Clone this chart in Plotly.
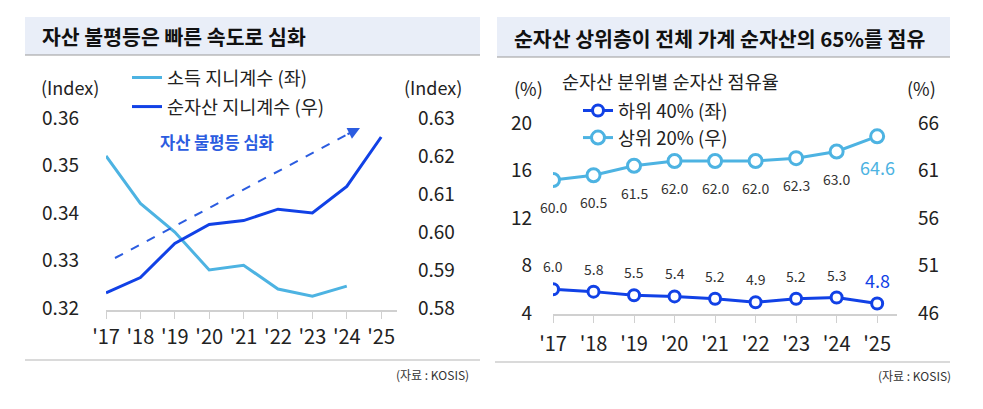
import plotly.graph_objects as go

# 데이터
years = ["'17", "'18", "'19", "'20", "'21", "'22", "'23", "'24", "'25"]
income_gini = [0.352, 0.342, 0.336, 0.328, 0.329, 0.324, 0.3225, 0.3246, None]
asset_gini = [0.584, 0.588, 0.597, 0.602, 0.603, 0.606, 0.605, 0.612, 0.625]

bottom40 = [6.0, 5.8, 5.5, 5.4, 5.2, 4.9, 5.2, 5.3, 4.8]
top20 = [60.0, 60.5, 61.5, 62.0, 62.0, 62.0, 62.3, 63.0, 64.6]

left_ticks_l = [0.32, 0.33, 0.34, 0.35, 0.36]
left_ticks_r = [0.58, 0.59, 0.60, 0.61, 0.62, 0.63]
right_ticks_l = [4, 8, 12, 16, 20]
right_ticks_r = [46, 51, 56, 61, 66]

LIGHT = "#4db3e2"
DARK = "#1141e6"
ARROW = "#2b5ce0"
FONT = "Noto Sans CJK KR"
W, H = 983, 409
OFF = 8  # 페이지 body 여백만큼 보정
FW, FH = W - OFF, H - OFF


def px(x):
    return (x - OFF) / FW


def py(y):
    return 1 - (y - OFF) / FH


def note(x, y, text, size, color="#222222", xanchor="center"):
    return dict(x=px(x), y=py(y), xref="paper", yref="paper", xanchor=xanchor, yanchor="middle",
                showarrow=False, text=text, font=dict(size=size, color=color, family=FONT))


fig = go.Figure()

# 왼쪽 차트
fig.add_trace(go.Scatter(x=years, y=income_gini, name="소득 지니계수 (좌)", mode="lines",
                         line=dict(color=LIGHT, width=3), xaxis="x", yaxis="y",
                         legend="legend", legendgroup="a"))
fig.add_trace(go.Scatter(x=years, y=asset_gini, name="순자산 지니계수 (우)", mode="lines",
                         line=dict(color=DARK, width=3), xaxis="x", yaxis="y2",
                         legend="legend", legendgroup="b"))

# 오른쪽 차트
fig.add_trace(go.Scatter(x=years, y=bottom40, name="하위 40% (좌)", mode="lines+markers",
                         line=dict(color=DARK, width=3),
                         marker=dict(size=11, color="white", line=dict(color=DARK, width=3)),
                         xaxis="x2", yaxis="y3", legend="legend2", legendgroup="c"))
fig.add_trace(go.Scatter(x=years, y=top20, name="상위 20% (우)", mode="lines+markers",
                         line=dict(color=LIGHT, width=3),
                         marker=dict(size=13, color="white", line=dict(color=LIGHT, width=3)),
                         xaxis="x2", yaxis="y4", legend="legend2", legendgroup="d"))

annotations = []
n = len(years)
for i, (yr, v) in enumerate(zip(years, bottom40)):
    last = i == n - 1
    annotations.append(dict(x=yr, y=v, xref="x2", yref="y3", text=f"{v:.1f}", showarrow=False,
                            yshift=24 if last else 23,
                            font=dict(size=18 if last else 14, color=DARK if last else "#333333", family=FONT)))
for i, (yr, v) in enumerate(zip(years, top20)):
    last = i == n - 1
    annotations.append(dict(x=yr, y=v, xref="x2", yref="y4", text=f"{v:.1f}", showarrow=False,
                            yshift=-31 if last else -27,
                            font=dict(size=18 if last else 14, color=LIGHT if last else "#333333", family=FONT)))

# 제목, 단위, 출처
annotations += [
    note(40, 36, "<b>자산 불평등은 빠른 속도로 심화</b>", 20.5, "#111111", "left"),
    note(512, 38, "<b>순자산 상위층이 전체 가계 순자산의 65%를 점유</b>", 20.5, "#111111", "left"),
    note(70, 87, "(Index)", 18),
    note(433, 87, "(Index)", 18),
    note(528, 88, "(%)", 18),
    note(921, 88, "(%)", 18),
    note(560, 81, "순자산 분위별 순자산 점유율", 18.5, xanchor="left"),
    note(471, 374, "(자료 : KOSIS)", 12, "#333333", "right"),
    note(953, 375, "(자료 : KOSIS)", 12, "#333333", "right"),
    note(217, 142, "<b>자산 불평등 심화</b>", 16.5, ARROW),
    # 화살표 머리
    dict(x=px(360), y=py(128), xref="paper", yref="paper", axref="pixel", ayref="pixel",
         ax=-14, ay=7, text="", showarrow=True, arrowhead=2, arrowsize=1.2, arrowwidth=2,
         arrowcolor=ARROW),
]

shapes = [
    dict(type="rect", xref="paper", yref="paper", x0=px(25), x1=px(480), y0=py(55), y1=py(17),
         fillcolor="#e9eef8", line=dict(width=0), layer="below"),
    dict(type="rect", xref="paper", yref="paper", x0=px(497), x1=px(950), y0=py(57), y1=py(17),
         fillcolor="#e9eef8", line=dict(width=0), layer="below"),
    dict(type="line", xref="paper", yref="paper", x0=px(25), x1=px(480), y0=py(55), y1=py(55),
         line=dict(color="#9a9a9a", width=1)),
    dict(type="line", xref="paper", yref="paper", x0=px(497), x1=px(950), y0=py(57), y1=py(57),
         line=dict(color="#9a9a9a", width=1)),
    dict(type="line", xref="paper", yref="paper", x0=px(25), x1=px(480), y0=py(360), y1=py(360),
         line=dict(color="#b5b5b5", width=1)),
    dict(type="line", xref="paper", yref="paper", x0=px(495), x1=px(950), y0=py(362), y1=py(362),
         line=dict(color="#b5b5b5", width=1)),
    # 점선 화살표
    dict(type="line", xref="paper", yref="paper", x0=px(115), y0=py(258), x1=px(352), y1=py(132),
         line=dict(color=ARROW, width=2, dash="dash")),
]

xcommon = dict(type="category", showline=True, linecolor="#d0d0d0", linewidth=1.5,
               ticks="outside", ticklen=7, tickcolor="#d0d0d0", showgrid=False,
               tickfont=dict(size=20, color="#222222", family=FONT))
ycommon = dict(showgrid=False, zeroline=False, showline=False, ticks="",
               tickfont=dict(size=19, color="#222222", family=FONT))

fig.update_layout(
    width=FW, height=FH,
    margin=dict(l=0, r=0, t=0, b=0, autoexpand=False),
    paper_bgcolor="white", plot_bgcolor="white",
    font=dict(family=FONT),
    xaxis=dict(xcommon, domain=[px(106), px(397)], range=[0, 8.46], anchor="y", ticklabelstandoff=1),
    yaxis=dict(ycommon, domain=[py(310), py(118)], range=[0.31958, 0.36],
               tickvals=left_ticks_l, tickformat=".2f", ticklabelstandoff=26),
    yaxis2=dict(ycommon, overlaying="y", side="right", range=[0.57947, 0.63],
                tickvals=left_ticks_r, tickformat=".2f", ticklabelstandoff=20),
    xaxis2=dict(xcommon, domain=[px(553), px(897)], range=[0, 8.49], anchor="y3", ticklabelstandoff=4),
    yaxis3=dict(ycommon, domain=[py(314), py(123)], range=[3.916, 20],
                tickvals=right_ticks_l, ticklabelstandoff=20, anchor="x2"),
    yaxis4=dict(ycommon, overlaying="y3", side="right", range=[45.895, 66],
                tickvals=right_ticks_r, ticklabelstandoff=20, anchor="x2"),
    legend=dict(x=px(127), y=py(59), xanchor="left", yanchor="top", bgcolor="rgba(0,0,0,0)",
                font=dict(size=18.5, color="#222222", family=FONT), traceorder="grouped",
                tracegroupgap=2, itemwidth=30),
    legend2=dict(x=px(578), y=py(92), xanchor="left", yanchor="top", bgcolor="rgba(0,0,0,0)",
                 font=dict(size=18.5, color="#222222", family=FONT), traceorder="grouped",
                 tracegroupgap=0, itemwidth=30),
    annotations=annotations,
    shapes=shapes,
)

fig.write_html("out.html")
